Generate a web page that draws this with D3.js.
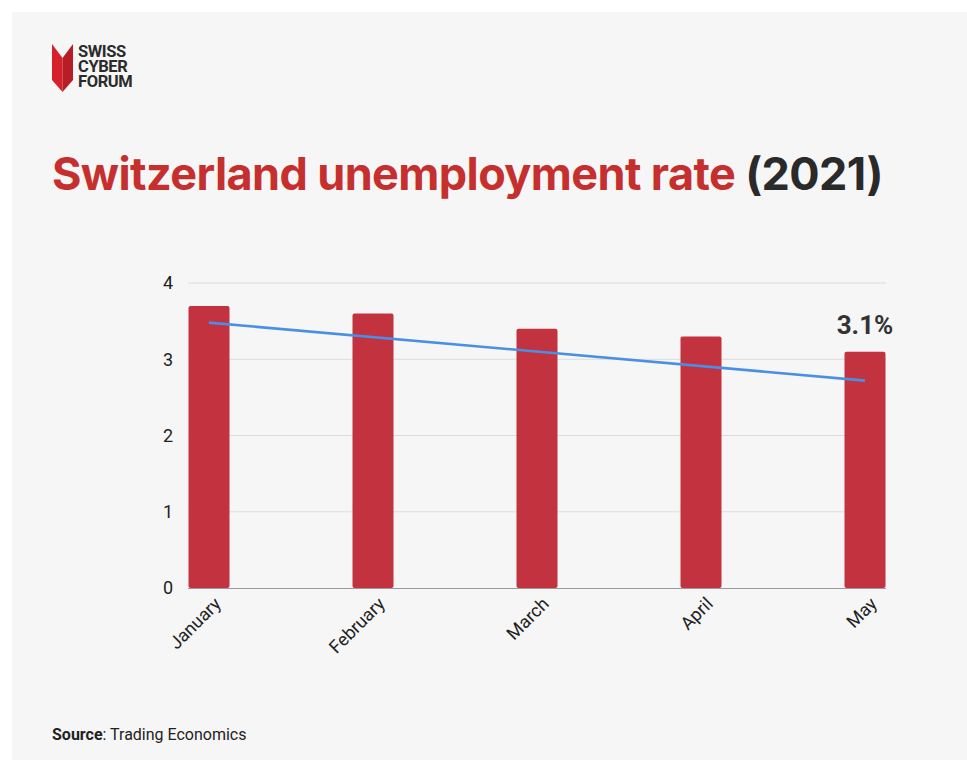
<!DOCTYPE html>
<html>
<head>
<meta charset="utf-8">
<script src="https://cdn.jsdelivr.net/npm/d3@7"></script>
<style>
  body { margin: 0; background: #fff; }
  svg { display: block; font-family: Roboto, "Noto Sans", sans-serif; }
</style>
</head>
<body>
<svg width="967" height="760"></svg>
<script>
  // data
  var months = ["January", "February", "March", "April", "May"];
  var rates = [3.7, 3.6, 3.4, 3.3, 3.1];
  var trendEnds = [3.48, 2.72]; // trendline as drawn, first and last month
  var yTicks = [0, 1, 2, 3, 4];

  var red = "#c2323f";
  var svg = d3.select("svg");

  // card background
  svg.append("rect").attr("x", 12).attr("y", 12).attr("width", 955).attr("height", 748)
    .attr("fill", "#f6f6f6");

  // logo
  var logo = svg.append("g").attr("transform", "translate(52,44)");
  logo.append("polygon").attr("points", "0,0 10.5,14 10.5,48 0,36").attr("fill", "#d6212b");
  logo.append("polygon").attr("points", "10.5,14 21,0 21,36 10.5,48").attr("fill", "#b81d26");
  var logoText = logo.append("text").attr("fill", "#2b2b2b")
    .attr("font-weight", 700).attr("font-size", 16.5).attr("letter-spacing", -0.4)
    .style("font-family", "Roboto");
  ["SWISS", "CYBER", "FORUM"].forEach(function(w, i){
    logoText.append("tspan").attr("x", 26).attr("y", 13 + i * 15).text(w);
  });

  // title
  var title = svg.append("text").attr("x", 52).attr("y", 190)
    .attr("font-size", 45).attr("font-weight", 700).style("font-family", "Inter")
    .attr("letter-spacing", -0.6);
  title.append("tspan").attr("fill", "#c5302f").text("Switzerland unemployment rate ");
  title.append("tspan").attr("fill", "#2a2a2a").text("(2021)");

  // scales
  var x = d3.scalePoint().domain(months).range([209, 865]);
  var y = d3.scaleLinear().domain([0, 4]).range([588, 283]);
  var barW = 41;
  var left = 188, right = 886;

  // gridlines
  svg.append("g").selectAll("line").data(yTicks.slice(1)).enter().append("line")
    .attr("x1", left).attr("x2", right)
    .attr("y1", function(d){ return y(d); }).attr("y2", function(d){ return y(d); })
    .attr("stroke", "#dcdcdc").attr("stroke-width", 1);

  // y axis labels
  var yAxis = d3.axisLeft(y).tickValues(yTicks).tickFormat(d3.format("d")).tickSize(0).tickPadding(0);
  svg.append("g").attr("transform", "translate(173,0)").call(yAxis)
    .call(function(g){ g.select(".domain").remove(); })
    .selectAll("text").attr("font-size", 18).attr("fill", "#222")
    .style("font-family", "Roboto");

  // bars
  svg.append("g").selectAll("rect").data(rates).enter().append("rect")
    .attr("x", function(d, i){ return x(months[i]) - barW / 2; })
    .attr("y", function(d){ return y(d); })
    .attr("width", barW)
    .attr("height", function(d){ return y(0) - y(d); })
    .attr("rx", 2)
    .attr("fill", red);

  // baseline
  svg.append("line").attr("x1", left).attr("x2", right)
    .attr("y1", y(0) + 0.5).attr("y2", y(0) + 0.5)
    .attr("stroke", "#9a9a9a").attr("stroke-width", 1);

  // trendline
  svg.append("line")
    .attr("x1", x(months[0])).attr("y1", y(trendEnds[0]))
    .attr("x2", x(months[months.length - 1])).attr("y2", y(trendEnds[1]))
    .attr("stroke", "#4a8fe3").attr("stroke-width", 2.6);

  // x axis labels
  svg.append("g").selectAll("text").data(months).enter().append("text")
    .attr("transform", function(d){ return "translate(" + (x(d) + 13) + ",605) rotate(-45)"; })
    .attr("text-anchor", "end")
    .attr("font-size", 18).attr("fill", "#222")
    .style("font-family", "Roboto")
    .text(function(d){ return d; });

  // value label on last bar
  svg.append("text")
    .attr("x", x(months[4])).attr("y", y(rates[4]) - 18)
    .attr("text-anchor", "middle")
    .attr("font-size", 26).attr("font-weight", 700).attr("fill", "#333")
    .style("font-family", "Roboto")
    .text(rates[4] + "%");

  // source
  var src = svg.append("text").attr("x", 52).attr("y", 740)
    .attr("font-size", 16).attr("fill", "#222").style("font-family", "Roboto");
  src.append("tspan").attr("font-weight", 700).text("Source");
  src.append("tspan").text(": Trading Economics");
</script>
</body>
</html>
